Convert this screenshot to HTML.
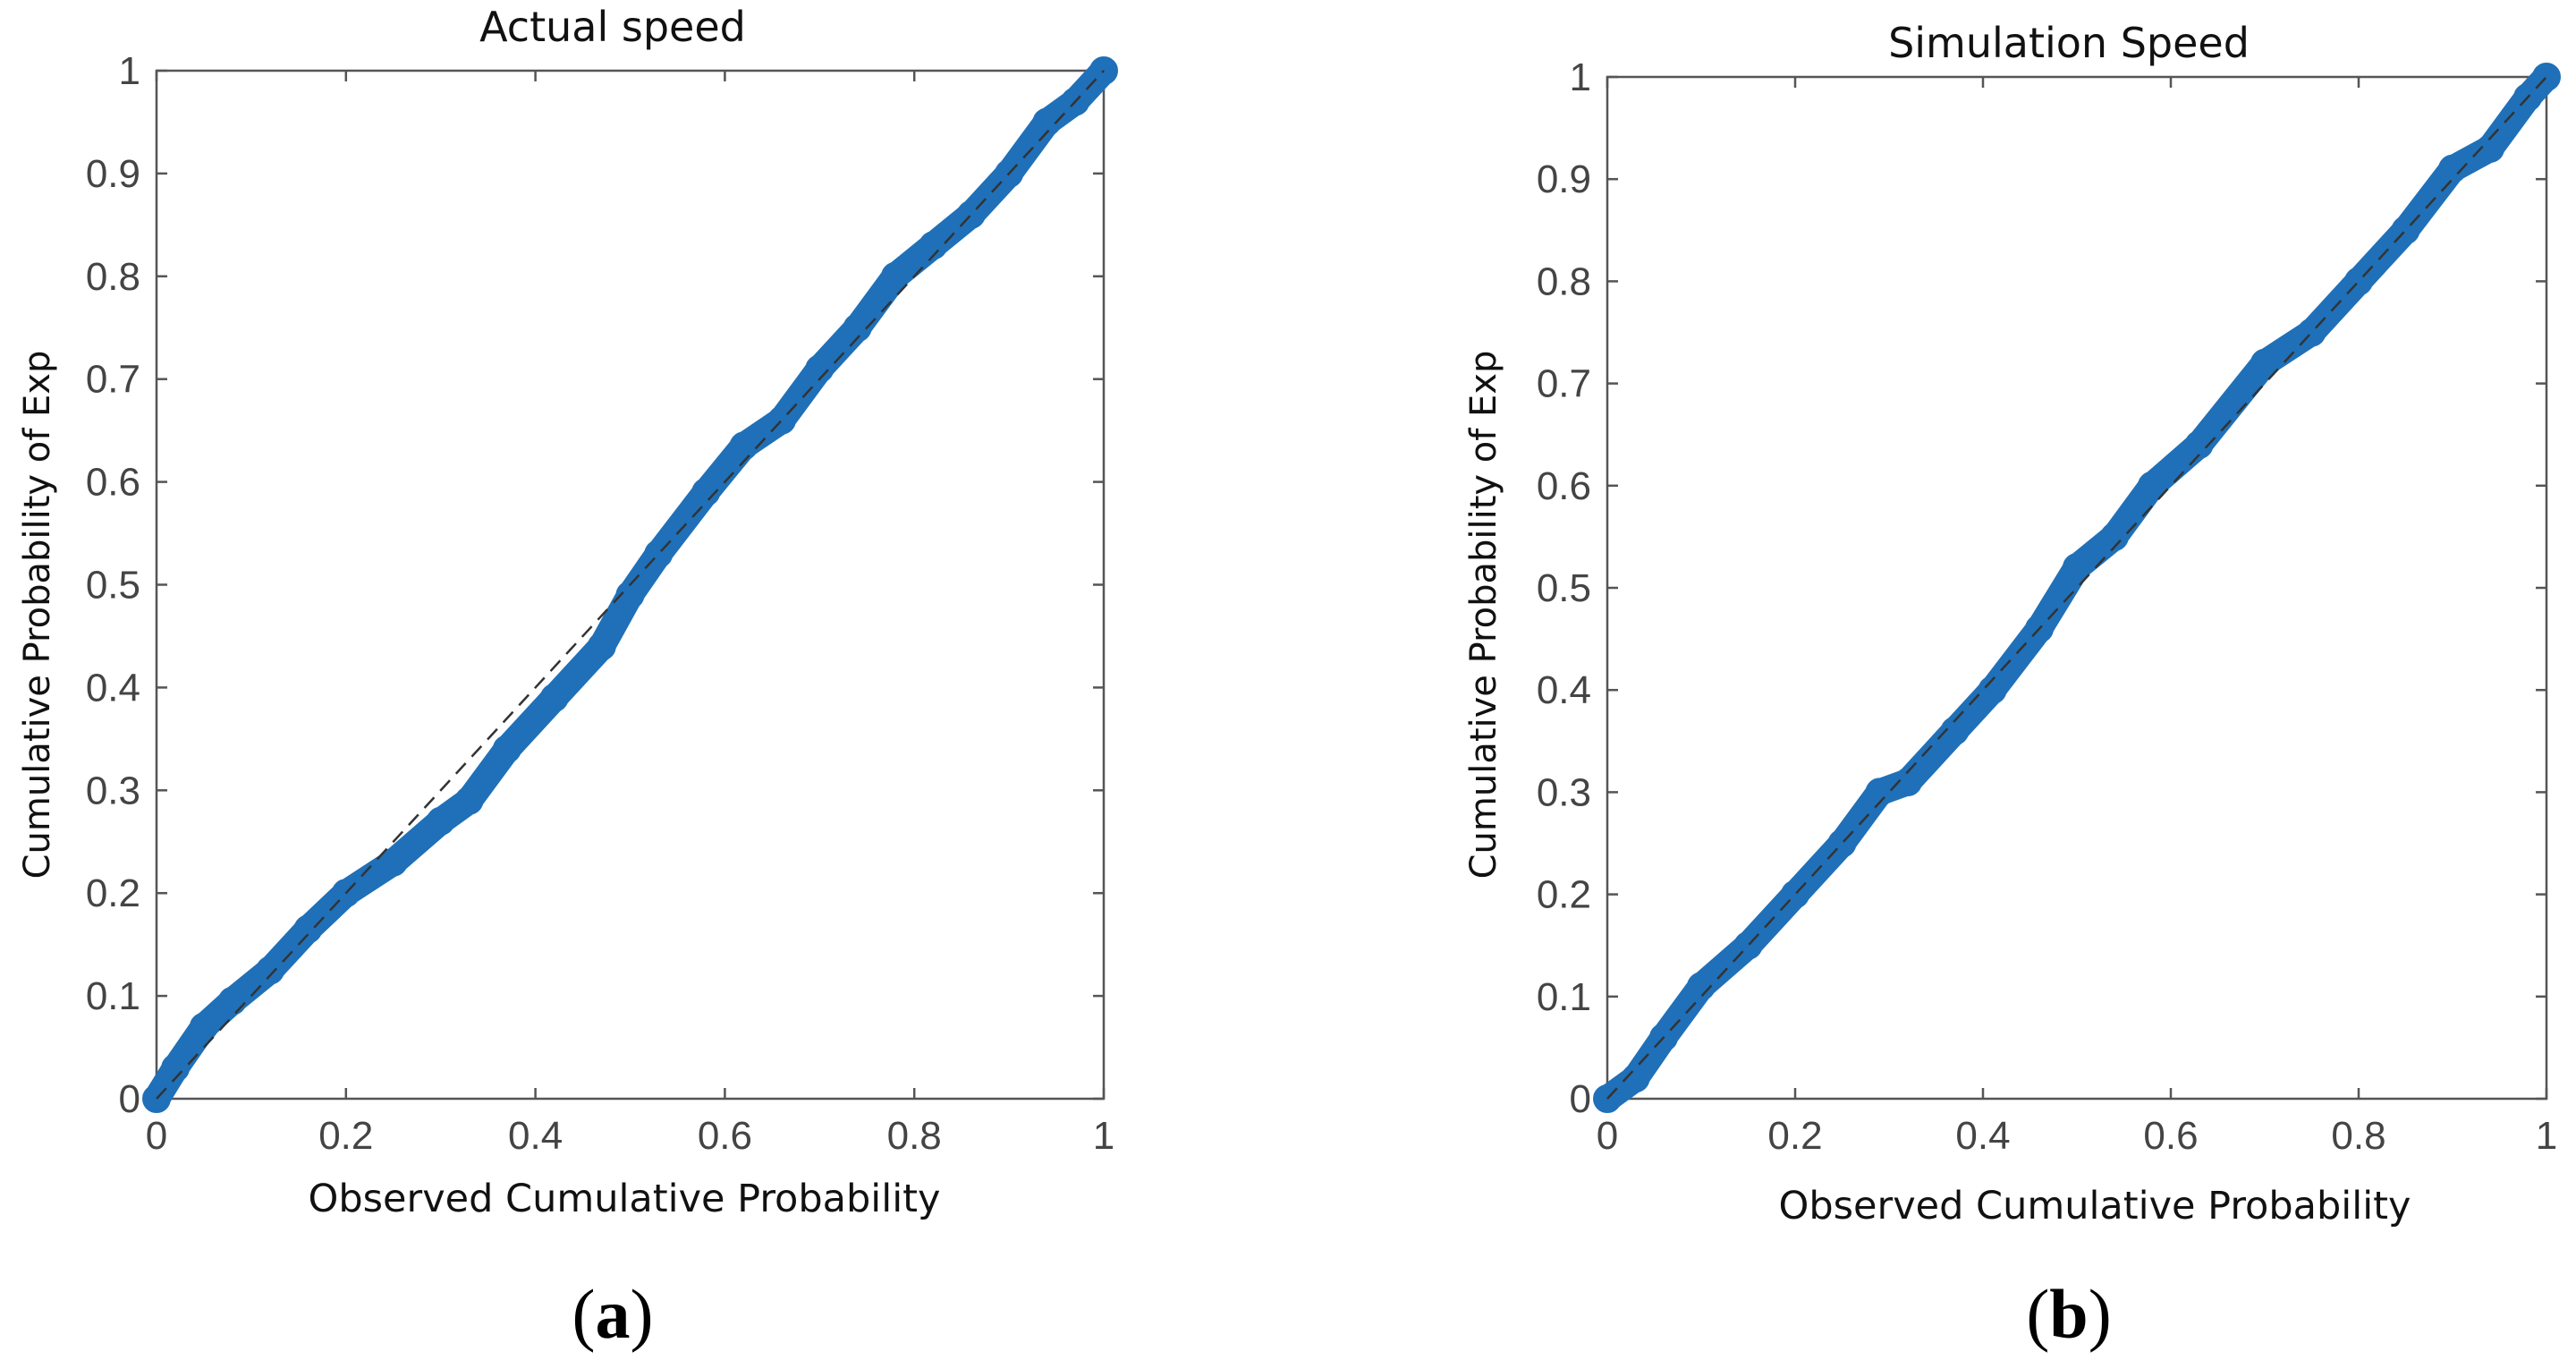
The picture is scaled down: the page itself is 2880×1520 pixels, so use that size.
<!DOCTYPE html>
<html><head><meta charset="utf-8"><style>
html,body{margin:0;padding:0;background:#fff;width:2880px;height:1520px;overflow:hidden}
svg{display:block}
</style></head><body>
<svg id="fig" width="2880" height="1520" xmlns="http://www.w3.org/2000/svg"></svg>
<script>
const ticks = [0,0.1,0.2,0.3,0.4,0.5,0.6,0.7,0.8,0.9,1];
const yTickLabels = ["0","0.1","0.2","0.3","0.4","0.5","0.6","0.7","0.8","0.9","1"];
const xTicks = [0,0.2,0.4,0.6,0.8,1];
const xTickLabels = ["0","0.2","0.4","0.6","0.8","1"];
const actualX = [0,0.02,0.05,0.08,0.12,0.16,0.2,0.25,0.3,0.33,0.37,0.42,0.47,0.5,0.53,0.58,0.62,0.66,0.7,0.74,0.78,0.82,0.86,0.9,0.94,0.97,1];
const actualY = [0,0.03,0.07,0.095,0.125,0.165,0.2,0.23,0.27,0.29,0.34,0.39,0.44,0.49,0.53,0.59,0.635,0.66,0.71,0.75,0.8,0.83,0.86,0.9,0.95,0.97,1];
const simX = [0,0.03,0.06,0.1,0.15,0.2,0.25,0.29,0.32,0.37,0.41,0.46,0.5,0.54,0.58,0.63,0.7,0.75,0.8,0.85,0.9,0.94,0.98,1];
const simY = [0,0.02,0.06,0.11,0.15,0.2,0.25,0.3,0.31,0.36,0.4,0.46,0.52,0.55,0.6,0.64,0.72,0.75,0.8,0.85,0.91,0.93,0.98,1];

const NS="http://www.w3.org/2000/svg";
const svg=document.getElementById('fig');
function mk(tag,attrs,parent){const e=document.createElementNS(NS,tag);for(const k in attrs)e.setAttribute(k,attrs[k]);(parent||svg).appendChild(e);return e;}

function panel(p){
  const g=mk('g',{});
  
  
  const sx=v=>p.x0+(p.x1-p.x0)*v, sy=v=>p.y0-(p.y0-p.y1)*v;
  const box=mk('rect',{x:p.x0,y:p.y1,width:p.x1-p.x0,height:p.y0-p.y1,fill:'none',stroke:'#555','stroke-width':2.5},g);
  
  
  ticks.forEach((t,i)=>{
    mk('line',{x1:p.x0,x2:p.x0+12,y1:sy(t),y2:sy(t),stroke:'#555','stroke-width':2.5},g);
    mk('line',{x1:p.x1,x2:p.x1-12,y1:sy(t),y2:sy(t),stroke:'#555','stroke-width':2.5},g);
    const tl=mk('text',{x:p.x0-18,y:sy(t)+15,'text-anchor':'end','font-family':'Liberation Sans, sans-serif','font-size':44,fill:'#444'},g);
    tl.textContent=yTickLabels[i];
    
    
  });
  xTicks.forEach((t,i)=>{
    mk('line',{x1:sx(t),x2:sx(t),y1:p.y0,y2:p.y0-12,stroke:'#555','stroke-width':2.5},g);
    mk('line',{x1:sx(t),x2:sx(t),y1:p.y1,y2:p.y1+12,stroke:'#555','stroke-width':2.5},g);
    const tl=mk('text',{x:sx(t),y:p.y0+56,'text-anchor':'middle','font-family':'Liberation Sans, sans-serif','font-size':44,fill:'#444'},g);
    tl.textContent=xTickLabels[i];
    
    
  });
  const pts=p.xs.map((v,i)=>sx(v)+','+sy(p.ys[i])).join(' ');
  const line=mk('polyline',{points:pts,fill:'none',stroke:'#1f70b8','stroke-width':30,'stroke-linejoin':'round','stroke-linecap':'round'},g);
  
  
  p.xs.forEach((v,i)=>{
    const c=mk('circle',{cx:sx(v),cy:sy(p.ys[i]),r:14,fill:'none',stroke:'#1f70b8','stroke-width':4},g);
    
    
  });
  const ref=mk('line',{x1:sx(0),y1:sy(0),x2:sx(1),y2:sy(1),stroke:'#333','stroke-width':2.5,'stroke-dasharray':'16,10'},g);
  
  
  const tt=mk('text',{x:p.tx,y:p.ty,'text-anchor':'middle','font-family':'DejaVu Sans, sans-serif','font-size':46,fill:'#111'},g);
  tt.textContent=p.title;
  
  
  const xt=mk('text',{x:p.xtx,y:p.xty,'text-anchor':'middle','font-family':'DejaVu Sans, sans-serif','font-size':43,fill:'#111'},g);
  xt.textContent='Observed Cumulative Probability';
  
  
  const yt=mk('text',{x:0,y:0,'text-anchor':'middle','font-family':'DejaVu Sans, sans-serif','font-size':40,fill:'#111',transform:`translate(${p.ytx},687) rotate(-90)`},g);
  yt.textContent='Cumulative Probability of Exp';
  
  
  const lb=mk('text',{x:p.tx,y:1495,'text-anchor':'middle','font-family':'Liberation Serif, serif','font-size':78,fill:'#000'},g);
  lb.innerHTML='(<tspan font-weight="bold">'+p.label+'</tspan>)';
  
  
}
panel({name:'panel-a',x0:175,x1:1234,y0:1228,y1:79,xs:actualX,ys:actualY,title:'Actual speed',tx:685,ty:46,xtx:698,xty:1354,ytx:55,label:'a'});
panel({name:'panel-b',x0:1797,x1:2847,y0:1228,y1:86,xs:simX,ys:simY,title:'Simulation Speed',tx:2313,ty:64,xtx:2342,xty:1362,ytx:1672,label:'b'});
</script>
</body></html>
